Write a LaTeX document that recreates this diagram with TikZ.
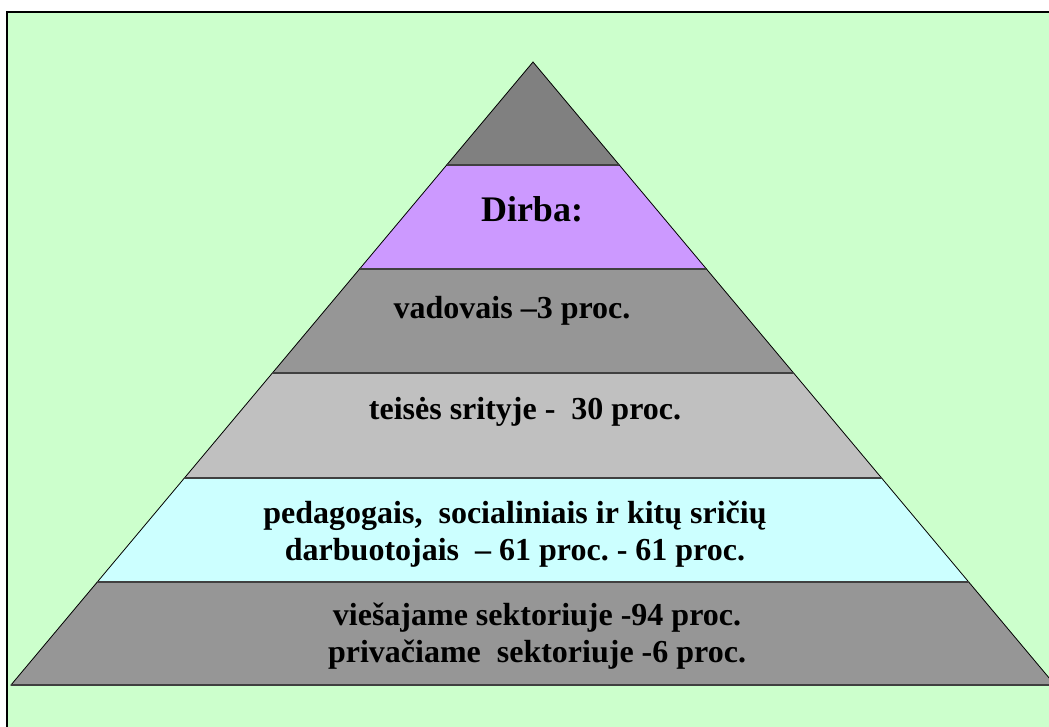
\documentclass[tikz,border=0pt]{standalone}
\usepackage{fontspec}
\setmainfont{Liberation Serif}
\usepackage{tikz}
\usetikzlibrary{positioning}
\usepackage{xcolor}
\definecolor{bggreen}{HTML}{CCFFCC}
\definecolor{topgray}{HTML}{808080}
\definecolor{midgray}{HTML}{969696}
\definecolor{lightgray}{HTML}{C0C0C0}
\definecolor{violet}{HTML}{CC99FF}
\definecolor{paleblue}{HTML}{CCFFFF}
\frenchspacing
\begin{document}
\begin{tikzpicture}[x=1pt,y=-1pt,
    tier/.style={draw=black,line width=0.8pt},
    tierline/.style={draw=black!75,line width=1.8pt},
    tiertext/.style={font=\fontsize{32}{37}\selectfont\bfseries,align=center,inner sep=0pt}]
                \useasboundingbox (0,0) rectangle (1049,727);
                \clip (0,0) rectangle (1049,727);
                \draw[fill=bggreen,line width=2pt] (7,12) rectangle (1080,760);
                % pyramid tiers, apex at (533,62)
                \foreach \ya/\yb/\col in {62/165/topgray,165/269/violet,269/373/midgray,373/478/lightgray,478/582/paleblue,582/685/midgray}
                    \draw[tier,fill=\col] ({533-0.8379*(\ya-62)},\ya) -- ({533+0.8379*(\ya-62)},\ya) -- ({533+0.8379*(\yb-62)},\yb) -- ({533-0.8379*(\yb-62)},\yb) -- cycle;
                \foreach \y in {165,269,373,478,582,685}
                    \draw[tierline] ({533-0.8379*(\y-62)},\y) -- ({533+0.8379*(\y-62)},\y);
                \node[tiertext,font=\fontsize{36}{40}\selectfont\bfseries,anchor=base] (dirba) at (532,222) {Dirba:};
                \node[tiertext,anchor=base] (vadovai) at (512,318) {vadovais --3 proc.};
                \node[tiertext,anchor=base] (teise) at (525,419) {teisės srityje -~ 30 proc.};
                \node[tiertext] (pedagogai) at (515,534) {pedagogais,~ socialiniais ir kitų sričių\\ darbuotojais~ -- 61 proc. - 61 proc.};
                \node[tiertext] (sektorius) at (537,636) {viešajame sektoriuje -94 proc.\\ privačiame~ sektoriuje -6 proc.};
            \end{tikzpicture}
\end{document}
